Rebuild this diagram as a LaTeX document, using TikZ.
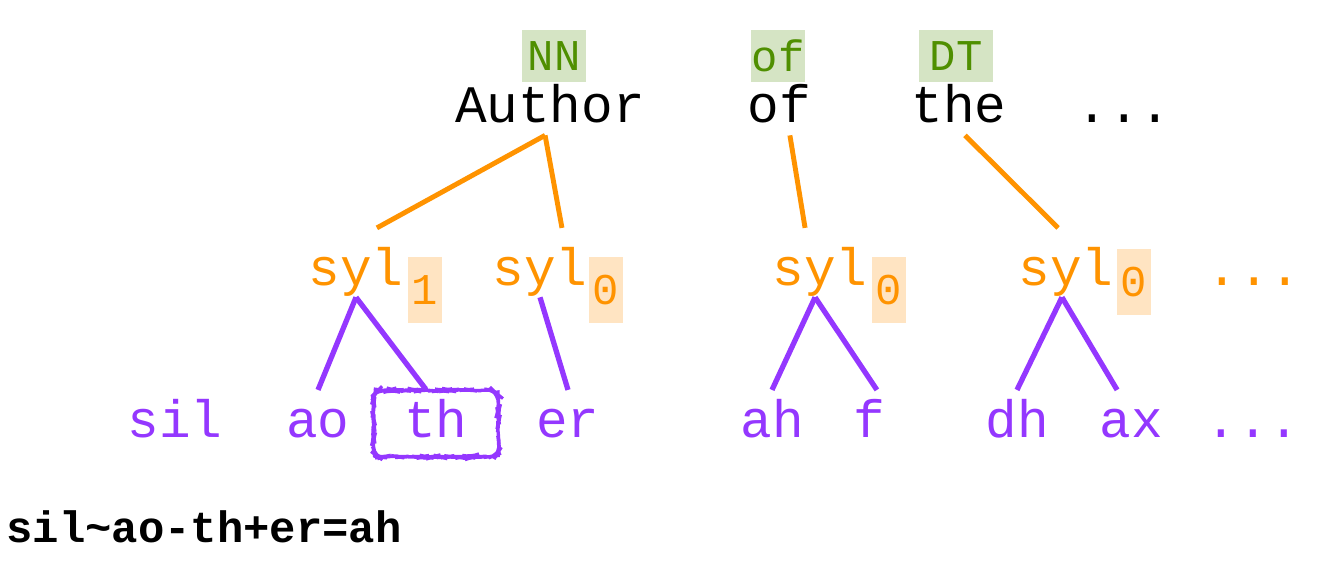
\documentclass[tikz,border=0pt]{standalone}
\usepackage{fontspec}
\setmonofont{Liberation Mono}
\usetikzlibrary{decorations.pathmorphing}
\definecolor{sylorange}{HTML}{FF9300}
\definecolor{phonepurple}{HTML}{9437FF}
\definecolor{taggreen}{HTML}{4F8F00}
\definecolor{tagfill}{HTML}{D5E4C4}
\definecolor{subfill}{HTML}{FFE4C2}
\tikzset{
    word/.style = {font=\ttfamily\fontsize{30}{36}\selectfont, inner sep=0pt, text depth=7.4pt, anchor=base},
    tag/.style = {font=\ttfamily\fontsize{25}{30}\selectfont, text=taggreen, fill=tagfill, inner xsep=3pt, minimum height=30pt},
    syl/.style = {font=\ttfamily\fontsize{30}{36}\selectfont, text=sylorange, inner sep=0pt, text height=32.3pt, text depth=6.8pt, anchor=base},
    sub/.style = {font=\ttfamily\fontsize{25}{30}\selectfont, text=sylorange, fill=subfill, inner xsep=2.4pt, minimum height=37pt},
    phone/.style = {font=\ttfamily\fontsize{30}{36}\selectfont, text=phonepurple, inner sep=0pt, text height=26.6pt, text depth=11.3pt, anchor=base},
    picked/.style = {draw=phonepurple, line width=1.7pt, rounded corners=5pt, minimum width=71pt,
        decorate, decoration={random steps, segment length=2pt, amplitude=0.4pt}},
    wordline/.style = {draw=sylorange, line width=2.8pt},
    sylline/.style = {draw=phonepurple, line width=3pt}
}

\begin{document}
\begin{tikzpicture}[x=0.02cm, y=-0.02cm]
        \useasboundingbox (0,0) rectangle (1326,561);

        % Nodes
        \node [tag] (nn) at (554,56) {NN};
        \node [tag, inner xsep=0.5pt] (oftag) at (778,56) {of};
        \node [tag, minimum width=42pt] (dt) at (956,56) {DT};

        \node [word] (author) at (550,122) {Author};
        \node [word] (of) at (779,122) {of};
        \node [word] (the) at (959,122) {the};
        \node [word] (wdots) at (1124,122) {...};

        \node [syl] (s1) at (356,285) {syl};
        \node [sub] (s1sub) at (425,290) {1};
        \node [syl] (s2) at (540,285) {syl};
        \node [sub] (s2sub) at (606,290) {0};
        \node [syl] (s3) at (820,285) {syl};
        \node [sub] (s3sub) at (889,290) {0};
        \node [syl] (s4) at (1066,285) {syl};
        \node [sub] (s4sub) at (1134,282) {0};
        \node [syl] (sdots) at (1254,285) {...};

        \node [phone] (sil) at (175,437) {sil};
        \node [phone] (ao) at (318,437) {ao};
        \node [phone, picked] (th) at (436,437) {th};
        \node [phone] (er) at (568,437) {er};
        \node [phone] (ah) at (772,437) {ah};
        \node [phone] (f) at (869,437) {f};
        \node [phone] (dh) at (1017,437) {dh};
        \node [phone] (ax) at (1131,437) {ax};
        \node [phone] (pdots) at (1253,437) {...};

        \node [anchor=base west, inner sep=0pt, font=\ttfamily\bfseries\fontsize{25}{30}\selectfont] (label) at (6,542) {sil\string~ao-th+er=ah};

        % Edges
        \draw [wordline] ([xshift=-2.8pt]author.south) -- ([xshift=11.9pt]s1.north);
        \draw [wordline] ([xshift=-2.8pt]author.south) -- ([xshift=12.5pt]s2.north);
        \draw [wordline] ([xshift=6.2pt]of.south) -- ([xshift=-8.5pt]s3.north);
        \draw [wordline] ([xshift=3.4pt]the.south) -- ([xshift=-4.5pt]s4.north);

        \draw [sylline] (s1.south) -- (ao.north);
        \draw [sylline] (s1.south) -- ([xshift=-6pt]th.north);
        \draw [sylline] (s2.south) -- (er.north);
        \draw [sylline] ([xshift=-2.8pt]s3.south) -- (ah.north);
        \draw [sylline] ([xshift=-2.8pt]s3.south) -- ([xshift=4.5pt]f.north);
        \draw [sylline] ([xshift=-2.3pt]s4.south) -- (dh.north);
        \draw [sylline] ([xshift=-2.3pt]s4.south) -- ([xshift=-7.9pt]ax.north);
\end{tikzpicture}
\end{document}
